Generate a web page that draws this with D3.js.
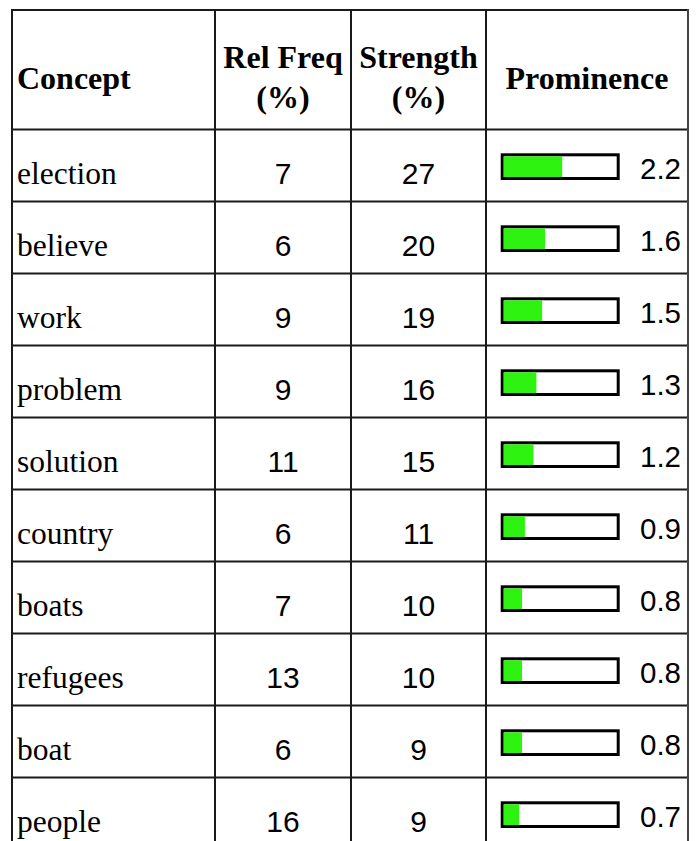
<!DOCTYPE html>
<html>
<head>
<meta charset="utf-8">
<script src="https://cdn.jsdelivr.net/npm/d3@7"></script>
<style>
  html, body { margin: 0; padding: 0; background: #fff; }
  svg { display: block; }
</style>
</head>
<body>
<svg id="chart" width="699" height="841"></svg>
<script>
// ---- data ----
const concepts = ["election", "believe", "work", "problem", "solution", "country", "boats", "refugees", "boat", "people"];
const relFreq = [7, 6, 9, 9, 11, 6, 7, 13, 6, 16];
const strength = [27, 20, 19, 16, 15, 11, 10, 10, 9, 9];
const prominence = [2.2, 1.6, 1.5, 1.3, 1.2, 0.9, 0.8, 0.8, 0.8, 0.7];
const headers = [["Concept"], ["Rel Freq", "(%)"], ["Strength", "(%)"], ["Prominence"]];

// ---- layout ----
const svg = d3.select("#chart");
const colEdges = [12, 215, 351, 486, 688];
const tableTop = 10, headerH = 119.5, rowH = 72;
const rowsTop = tableTop + headerH;

const y = d3.scaleBand()
  .domain(concepts)
  .range([rowsTop, rowsTop + rowH * concepts.length])
  .paddingInner(0).paddingOuter(0);

const barX0 = 503.7, barInner = 113;
const x = d3.scaleLinear().domain([0.16, 4.1]).range([0, barInner]);

const serif = "'Liberation Serif', 'Times New Roman', serif";
const sans = "'Liberation Sans', Arial, sans-serif";
const lineColor = "#1a1a1a";

// grid: horizontal lines
const hLines = [tableTop, rowsTop].concat(concepts.map(c => y(c) + y.bandwidth()));
svg.append("g").selectAll("line").data(hLines).join("line")
  .attr("x1", colEdges[0]).attr("x2", colEdges[colEdges.length - 1])
  .attr("y1", d => d).attr("y2", d => d)
  .attr("stroke", lineColor).attr("stroke-width", 2);

// grid: vertical lines
svg.append("g").selectAll("line").data(colEdges).join("line")
  .attr("x1", d => d).attr("x2", d => d)
  .attr("y1", tableTop - 1).attr("y2", 841)
  .attr("stroke", (d, i) => i === colEdges.length - 1 ? "#444" : lineColor)
  .attr("stroke-width", 2);

// headers
const headerG = svg.append("g")
  .attr("font-family", serif).attr("font-weight", "bold").attr("font-size", 32).attr("fill", "#000");
headers.forEach((lines, i) => {
  const cx = i === 0 ? colEdges[0] + 5 : (colEdges[i] + colEdges[i + 1]) / 2;
  const anchor = i === 0 ? "start" : "middle";
  const baselines = lines.length === 1 ? [89] : [68, 108];
  lines.forEach((t, j) => {
    headerG.append("text")
      .attr("x", cx).attr("y", baselines[j])
      .attr("text-anchor", anchor)
      .text(t);
  });
});

// rows
const rows = svg.append("g").selectAll("g").data(concepts).join("g")
  .attr("transform", d => `translate(0,${y(d)})`);

rows.append("text")
  .attr("x", colEdges[0] + 5).attr("y", 54)
  .attr("font-family", serif).attr("font-size", 31.5).attr("fill", "#000")
  .text(d => d);

rows.append("text")
  .attr("x", (colEdges[1] + colEdges[2]) / 2).attr("y", 54)
  .attr("text-anchor", "middle")
  .attr("font-family", sans).attr("font-size", 30).attr("fill", "#000")
  .text((d, i) => relFreq[i]);

rows.append("text")
  .attr("x", (colEdges[2] + colEdges[3]) / 2).attr("y", 54)
  .attr("text-anchor", "middle")
  .attr("font-family", sans).attr("font-size", 30).attr("fill", "#000")
  .text((d, i) => strength[i]);

// bar frame
rows.append("rect")
  .attr("x", barX0 - 1.5).attr("y", 25.3)
  .attr("width", barInner + 3).attr("height", 23.7)
  .attr("fill", "#fff").attr("stroke", "#000").attr("stroke-width", 3);

// bar fill
rows.append("rect")
  .attr("x", barX0).attr("y", 26.8)
  .attr("width", (d, i) => x(prominence[i]))
  .attr("height", 20.7)
  .attr("fill", "#2ef20f");

rows.append("text")
  .attr("x", 681).attr("y", 49)
  .attr("text-anchor", "end")
  .attr("font-family", sans).attr("font-size", 29.5).attr("fill", "#000")
  .text((d, i) => prominence[i].toFixed(1));
</script>
</body>
</html>
